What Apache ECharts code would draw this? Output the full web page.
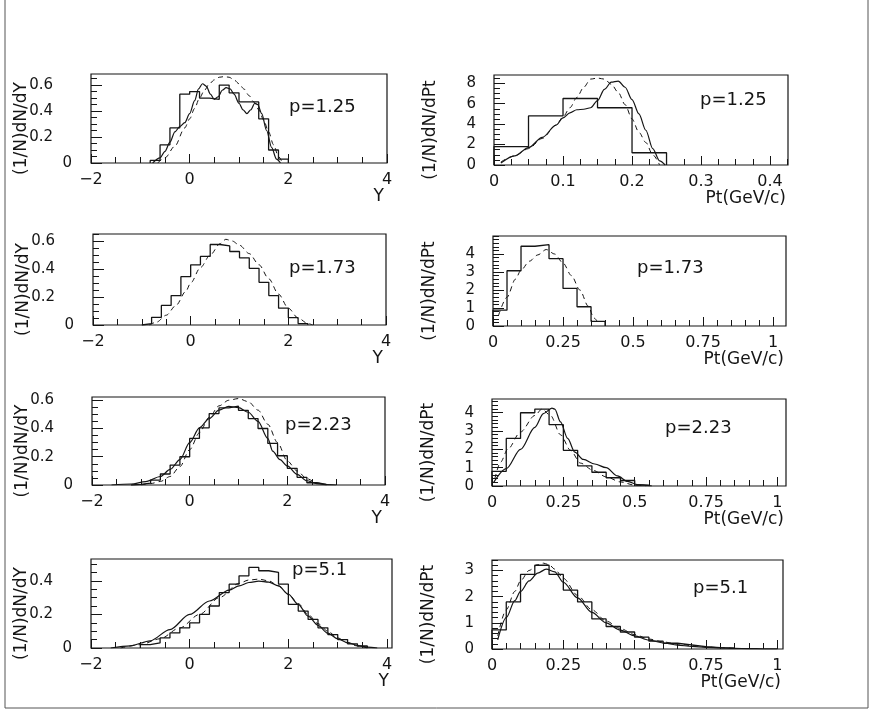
<!DOCTYPE html>
<html><head><meta charset="utf-8">
<script src="https://cdn.jsdelivr.net/npm/echarts@6/dist/echarts.min.js"></script>
<style>html,body{margin:0;padding:0;background:#fff}#c{width:875px;height:723px}</style>
</head><body><div id="c"></div><script>
// ---------- tick labels ----------
const xTicksY = [-2, 0, 2, 4];
const xTicksPtSmall = [0, 0.1, 0.2, 0.3, 0.4];
const xTicksPt = [0, 0.25, 0.5, 0.75, 1];
const yTicksY = [0, 0.2, 0.4, 0.6];
const yTicksY4 = [0, 0.2, 0.4];
const yTicksPt1 = [0, 2, 4, 6, 8];
const yTicksPt = [0, 1, 2, 3, 4];
const yTicksPt4 = [0, 1, 2, 3];
const labels = ['p=1.25', 'p=1.73', 'p=2.23', 'p=5.1'];

// ---------- p=1.25, dN/dY ----------
const h1Edges = [-0.8,-0.6,-0.4,-0.2,0,0.2,0.4,0.6,0.8,1.0,1.2,1.4,1.6,1.8,2.0];
const h1Vals  = [0.02,0.14,0.27,0.53,0.55,0.50,0.49,0.60,0.54,0.47,0.47,0.34,0.10,0.03];
const s1X = [-0.75,-0.6,-0.5,-0.4,-0.3,-0.2,-0.1,0,0.1,0.18,0.26,0.34,0.42,0.5,0.58,0.66,0.74,0.82,0.9,1.0,1.08,1.16,1.24,1.32,1.38,1.46,1.56,1.66,1.76,1.84];
const s1Y = [0,0.04,0.09,0.16,0.24,0.28,0.31,0.38,0.48,0.57,0.61,0.59,0.53,0.49,0.51,0.56,0.58,0.57,0.53,0.46,0.41,0.38,0.41,0.46,0.45,0.38,0.25,0.12,0.03,0];
const d1X = [-0.65,-0.5,-0.3,-0.1,0,0.1,0.2,0.3,0.4,0.5,0.6,0.7,0.8,0.9,1.0,1.1,1.2,1.3,1.4,1.5,1.6,1.7,1.8,1.88];
const d1Y = [0,0.04,0.13,0.27,0.34,0.42,0.5,0.56,0.61,0.64,0.66,0.665,0.66,0.64,0.61,0.57,0.52,0.47,0.41,0.33,0.24,0.14,0.05,0];

// ---------- p=1.25, dN/dPt ----------
const h2Edges = [0,0.05,0.1,0.15,0.2,0.25];
const h2Vals  = [1.8,4.8,6.5,5.6,1.2];
const s2X = [0.01,0.03,0.05,0.07,0.09,0.1,0.11,0.12,0.13,0.14,0.15,0.16,0.17,0.18,0.19,0.2,0.21,0.22,0.23,0.24,0.248];
const s2Y = [0.2,0.9,1.7,2.7,3.9,4.6,5.1,5.4,5.45,5.6,6.3,7.4,8.1,8.2,7.6,6.4,5.0,3.4,1.6,0.4,0];
const d2X = [0.01,0.03,0.05,0.07,0.09,0.1,0.11,0.12,0.13,0.14,0.15,0.16,0.17,0.18,0.19,0.2,0.21,0.22,0.23,0.24];
const d2Y = [0.3,0.9,1.6,2.6,3.9,4.7,5.6,6.6,7.6,8.4,8.5,8.4,7.9,7.1,5.9,4.5,3.2,2.2,1.0,0];

// ---------- p=1.73, dN/dY ----------
const h3Edges = [-1.0,-0.8,-0.6,-0.4,-0.2,0,0.2,0.4,0.6,0.8,1.0,1.2,1.4,1.6,1.8,2.0,2.2,2.4];
const h3Vals  = [0.01,0.055,0.14,0.21,0.345,0.43,0.49,0.575,0.565,0.525,0.48,0.405,0.305,0.21,0.12,0.052,0.01];
const d3X = [-0.85,-0.7,-0.5,-0.3,-0.1,0,0.2,0.4,0.6,0.72,0.85,1.0,1.2,1.4,1.6,1.8,2.0,2.2,2.4,2.5];
const d3Y = [0,0.02,0.07,0.14,0.24,0.3,0.41,0.5,0.58,0.612,0.6,0.57,0.51,0.43,0.33,0.22,0.12,0.05,0.01,0];

// ---------- p=1.73, dN/dPt ----------
const h4Edges = [0,0.05,0.1,0.15,0.2,0.25,0.3,0.35,0.4];
const h4Vals  = [0.88,3.07,4.43,4.52,3.74,2.09,1.07,0.26];
const d4X = [0.02,0.05,0.08,0.1,0.13,0.16,0.19,0.22,0.25,0.28,0.31,0.34,0.36,0.38];
const d4Y = [0.6,1.6,2.6,3.1,3.6,3.95,4.25,4.0,3.5,2.8,2.0,1.1,0.45,0.05];

// ---------- p=2.23, dN/dY ----------
const h5Edges = [-1.2,-1.0,-0.8,-0.6,-0.4,-0.2,0,0.2,0.4,0.6,0.8,1.0,1.2,1.4,1.6,1.8,2.0,2.2,2.4,2.6,2.8];
const h5Vals  = [0.005,0.014,0.035,0.078,0.141,0.2,0.33,0.405,0.506,0.546,0.558,0.529,0.47,0.4,0.294,0.207,0.118,0.054,0.016,0.005];
const s5X = [-1.6,-1.2,-0.9,-0.6,-0.4,-0.2,0,0.2,0.4,0.6,0.8,1.0,1.2,1.4,1.6,1.7,1.85,2.0,2.2,2.4,2.6,2.8,3.0];
const s5Y = [0,0.007,0.024,0.06,0.11,0.18,0.3,0.405,0.47,0.53,0.556,0.548,0.515,0.45,0.33,0.24,0.18,0.135,0.075,0.03,0.01,0.003,0];
const d5X = [-1.0,-0.8,-0.6,-0.4,-0.2,0,0.2,0.4,0.6,0.8,1.0,1.2,1.4,1.6,1.8,2.0,2.2,2.4,2.6,2.8];
const d5Y = [0,0.01,0.025,0.06,0.13,0.25,0.37,0.48,0.56,0.6,0.612,0.59,0.53,0.43,0.3,0.17,0.1,0.045,0.015,0];

// ---------- p=2.23, dN/dPt ----------
const h6Edges = [0,0.05,0.1,0.15,0.2,0.25,0.3,0.35,0.4,0.45,0.5,0.55];
const h6Vals  = [0.8,2.6,4.0,4.2,3.35,1.95,1.1,0.75,0.45,0.3,0.05];
const s6X = [0.006,0.05,0.1,0.15,0.18,0.21,0.22,0.24,0.265,0.29,0.32,0.36,0.4,0.44,0.475,0.51,0.56];
const s6Y = [0.2,0.95,2.0,3.2,3.95,4.25,4.2,3.5,2.6,1.85,1.45,1.2,1.0,0.55,0.25,0.07,0];
const d6X = [0.01,0.03,0.055,0.1,0.15,0.175,0.205,0.24,0.275,0.31,0.355,0.4,0.45,0.5,0.54];
const d6Y = [0.4,1.3,2.0,2.95,3.85,4.2,3.85,2.8,1.95,1.25,0.85,0.5,0.22,0.05,0];

// ---------- p=5.1, dN/dY ----------
const h7Edges = [-1.0,-0.8,-0.6,-0.4,-0.2,0,0.2,0.4,0.6,0.8,1.0,1.2,1.4,1.6,1.8,2.0,2.2,2.4,2.6,2.8,3.0,3.2,3.4,3.6];
const h7Vals  = [0.02,0.03,0.06,0.09,0.12,0.15,0.2,0.25,0.33,0.38,0.43,0.48,0.46,0.45,0.38,0.26,0.22,0.17,0.12,0.08,0.05,0.025,0.012];
const s7X = [-1.6,-1.2,-0.8,-0.4,0,0.4,0.8,1.0,1.2,1.4,1.6,1.8,2.0,2.2,2.4,2.6,2.8,3.0,3.2,3.4,3.6,3.8];
const s7Y = [0,0.013,0.043,0.11,0.2,0.28,0.345,0.37,0.39,0.398,0.392,0.37,0.32,0.26,0.19,0.135,0.088,0.055,0.032,0.015,0.005,0];
const d7X = [-1.4,-1.0,-0.6,-0.2,0.2,0.6,1.0,1.2,1.4,1.6,1.8,2.0,2.2,2.4,2.6,2.8,3.0,3.2,3.4,3.6];
const d7Y = [0,0.02,0.055,0.12,0.2,0.3,0.385,0.405,0.41,0.4,0.37,0.32,0.265,0.2,0.145,0.1,0.06,0.03,0.012,0];

// ---------- p=5.1, dN/dPt ----------
const h8Edges = [0,0.05,0.1,0.15,0.2,0.25,0.3,0.35,0.4,0.45,0.5,0.55,0.6,0.65,0.7,0.75,0.8,0.85];
const h8Vals  = [0.73,1.8,2.85,3.2,2.85,2.25,1.8,1.15,0.86,0.65,0.45,0.3,0.22,0.16,0.09,0.05,0.03];
const s8X = [0.02,0.05,0.08,0.1,0.13,0.16,0.19,0.22,0.25,0.3,0.35,0.4,0.45,0.5,0.55,0.6,0.65,0.7,0.75,0.8,0.85,0.9,0.95,1.0];
const s8Y = [0.35,1.2,1.85,2.2,2.6,2.9,3.05,2.95,2.55,1.95,1.4,1.0,0.72,0.5,0.34,0.23,0.15,0.1,0.065,0.04,0.025,0.015,0.008,0.004];
const d8X = [0.02,0.05,0.08,0.1,0.13,0.16,0.18,0.2,0.22,0.25,0.3,0.35,0.4,0.45,0.5,0.55,0.6,0.65,0.7,0.75,0.8,0.85];
const d8Y = [0.5,1.5,2.2,2.6,3.0,3.22,3.28,3.22,3.05,2.7,2.05,1.5,1.07,0.78,0.55,0.38,0.27,0.19,0.13,0.08,0.05,0.03];

// ---------- layout ----------
const FONT = 'DejaVu Sans';
const INK = '#151515';
const panels = [
  {box:[91,74,296,89],  x:[-2,4],     y:[0,0.685], xt:xTicksY, xm:0.5,  yt:yTicksY,   ym:0.05, h:[h1Edges,h1Vals], s:[s1X,s1Y], d:[d1X,d1Y], lab:labels[0], lp:[289,107], left:true},
  {box:[494,75,294,90], x:[0,0.426],  y:[0,8.8],   xt:xTicksPtSmall, xm:0.025, yt:yTicksPt1, ym:0.5, h:[h2Edges,h2Vals], s:[s2X,s2Y], d:[d2X,d2Y], lab:labels[0], lp:[700,100], left:false},
  {box:[93,234,293,91], x:[-2,4],     y:[0,0.65],  xt:xTicksY, xm:0.5,  yt:yTicksY,   ym:0.05, h:[h3Edges,h3Vals], s:null, d:[d3X,d3Y], lab:labels[1], lp:[289,268], left:true},
  {box:[493,236,293,90],x:[0,1.046],  y:[0,5],     xt:xTicksPt, xm:0.05, yt:yTicksPt, ym:0.2, h:[h4Edges,h4Vals], s:null, d:[d4X,d4Y], lab:labels[1], lp:[637,268], left:false},
  {box:[92,397,293,88], x:[-2,4],     y:[0,0.623], xt:xTicksY, xm:0.5,  yt:yTicksY,   ym:0.05, h:[h5Edges,h5Vals], s:[s5X,s5Y], d:[d5X,d5Y], lab:labels[2], lp:[285,425], left:true},
  {box:[492,399,294,87],x:[0,1.03],   y:[0,4.75],  xt:xTicksPt, xm:0.05, yt:yTicksPt, ym:0.2, h:[h6Edges,h6Vals], s:[s6X,s6Y], d:[d6X,d6Y], lab:labels[2], lp:[665,428], left:false},
  {box:[91,559,301,89], x:[-2,4.1],   y:[0,0.53],  xt:xTicksY, xm:0.5,  yt:yTicksY4,  ym:0.05, h:[h7Edges,h7Vals], s:[s7X,s7Y], d:[d7X,d7Y], lab:labels[3], lp:[292,570], left:true},
  {box:[492,560,291,89],x:[0,1.02],   y:[0,3.4],   xt:xTicksPt, xm:0.05, yt:yTicksPt4, ym:0.2, h:[h8Edges,h8Vals], s:[s8X,s8Y], d:[d8X,d8Y], lab:labels[3], lp:[693,588], left:false}
];

function stepPts(edges, vals){
  const pts = [[edges[0], 0]];
  for (let i = 0; i < vals.length; i++) pts.push([edges[i], vals[i]]);
  pts.push([edges[vals.length], vals[vals.length-1]]);
  pts.push([edges[vals.length], 0]);
  return pts;
}
function zip(xs, ys){ return xs.map((x,i)=>[x, ys[i]]); }
function minors(min, max, step, majors){
  const out = []; const n = Math.floor((max - min) / step + 1e-6);
  for (let k = 0; k <= n; k++){
    const v = +(min + k*step).toFixed(6);
    if (!majors.some(m => Math.abs(m - v) < 1e-9)) out.push(v);
  }
  return out;
}
const fmt = v => String(v).replace('-', '\u2212');
const txtX = {fontFamily: FONT, fontSize: 16, color: INK};
const txtY = {fontFamily: FONT, fontSize: 15, color: INK};
const noZero = {show:false, onZero:false};

const grid = [], xAxis = [], yAxis = [], series = [], graphic = [];
panels.forEach((p, i) => {
  grid.push({left:p.box[0], top:p.box[1], width:p.box[2], height:p.box[3], show:true,
             borderColor:INK, borderWidth:1.2, containLabel:false, outerBoundsMode:'none'});
  xAxis.push({type:'value', gridIndex:i, min:p.x[0], max:p.x[1], position:'bottom',
    axisLine:noZero, splitLine:{show:false},
    axisTick:{show:true, inside:true, length:9, customValues:p.xt, lineStyle:{color:INK, width:1}},
    axisLabel:Object.assign({customValues:p.xt, margin:9, formatter:fmt}, txtX),
    name: p.left ? 'Y' : 'Pt(GeV/c)', nameLocation:'end', nameGap: p.left ? -3 : -2, nameMoveOverlap:false,
    nameTextStyle:{fontFamily:FONT, fontSize:17, color:INK, align:'right', verticalAlign:'top', padding:[25,0,0,0]}});
  xAxis.push({type:'value', gridIndex:i, min:p.x[0], max:p.x[1], position:'bottom',
    axisLine:noZero, splitLine:{show:false}, axisLabel:{show:false},
    axisTick:{show:true, inside:true, length:6, customValues:minors(p.x[0], p.x[1], p.xm, p.xt), lineStyle:{color:INK, width:1}}});
  // left column: the "0" label sits further right than the others (as in the original)
  const mainLabels = p.left ? p.yt.filter(v => v !== 0) : p.yt;
  yAxis.push({type:'value', gridIndex:i, min:p.y[0], max:p.y[1], position:'left', offset:0,
    axisLine:noZero, splitLine:{show:false},
    axisTick:{show:true, inside:true, length:11, customValues:p.yt, lineStyle:{color:INK, width:1}},
    axisLabel:Object.assign({customValues:mainLabels, margin: p.left ? 38 : 18}, txtY),
    name: p.left ? '(1/N)dN/dY' : '(1/N)dN/dPt', nameLocation:'middle', nameRotate:90,
    nameGap: p.left ? 61 : 55, nameMoveOverlap:false,
    nameTextStyle:{fontFamily:FONT, fontSize:17, color:INK, padding:[0,20,0,0]}});
  yAxis.push({type:'value', gridIndex:i, min:p.y[0], max:p.y[1], position:'left', offset:0,
    axisLine:noZero, splitLine:{show:false},
    axisLabel: p.left ? Object.assign({customValues:[0], margin:19}, txtY) : {show:false},
    axisTick:{show:true, inside:true, length:6, customValues:minors(p.y[0], p.y[1], p.ym, p.yt), lineStyle:{color:INK, width:1}}});
  const base = {type:'line', xAxisIndex:2*i, yAxisIndex:2*i, symbol:'none', silent:true, animation:false, clip:true};
  series.push(Object.assign({name:'histogram ' + p.lab, data:stepPts(p.h[0], p.h[1]), step:'end',
    lineStyle:{color:INK, width:1.3}}, base));
  if (p.s) series.push(Object.assign({name:'solid ' + p.lab, data:zip(p.s[0], p.s[1]), smooth:0.3, smoothMonotone:'x',
    lineStyle:{color:INK, width:1.2}}, base));
  series.push(Object.assign({name:'dashed ' + p.lab, data:zip(p.d[0], p.d[1]), smooth:0.3, smoothMonotone:'x',
    lineStyle:{color:INK, width:1, type:[5,4]}}, base));
  graphic.push({type:'text', x:p.lp[0], y:p.lp[1], silent:true,
    style:{text:p.lab, fontFamily:FONT, fontSize:18, fill:INK, verticalAlign:'middle'}});
});
graphic.push({type:'polyline', silent:true, shape:{points:[[5,0],[5,708],[868,708],[868,0]]},
  style:{stroke:'#555', fill:null, lineWidth:1}});

const chart = echarts.init(document.getElementById('c'), null, {renderer:'canvas'});
chart.setOption({backgroundColor:'#ffffff', animation:false, grid, xAxis, yAxis, series, graphic});
</script></body></html>
